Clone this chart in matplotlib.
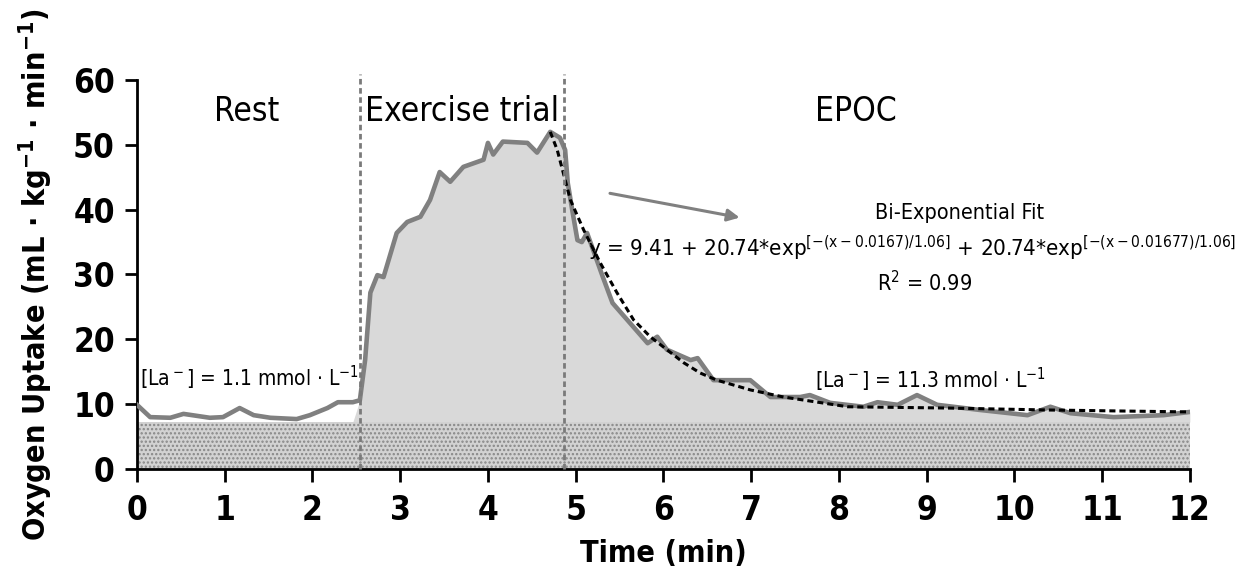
import numpy as np
import matplotlib
matplotlib.use("Agg")
import matplotlib.pyplot as plt

plt.rcParams['font.family'] = ['DejaVu Sans']
plt.rcParams['font.stretch'] = 'condensed'
plt.rcParams['mathtext.fontset'] = 'custom'
plt.rcParams['mathtext.rm'] = 'DejaVu Sans:stretch=condensed'
plt.rcParams['mathtext.it'] = 'DejaVu Sans:stretch=condensed'
plt.rcParams['mathtext.bf'] = 'DejaVu Sans:stretch=condensed:weight=bold'
plt.rcParams['mathtext.default'] = 'regular'
plt.rcParams['hatch.color'] = '#878787'
plt.rcParams['hatch.linewidth'] = 1.1

# measured oxygen uptake (min, mL/kg/min)
time = [0.00, 0.15, 0.38, 0.53, 0.83, 0.98, 1.17, 1.33, 1.52, 1.82, 1.97, 2.17, 2.29,
        2.46, 2.54, 2.60, 2.66, 2.74, 2.81, 2.96, 3.08, 3.23, 3.34, 3.45, 3.57, 3.72,
        3.95, 4.00, 4.06, 4.17, 4.45, 4.56, 4.71, 4.82, 4.88, 4.91, 4.96, 5.02, 5.07,
        5.13, 5.31, 5.42, 5.62, 5.82, 5.93, 6.04, 6.31, 6.39, 6.57, 6.99, 7.22, 7.56,
        7.67, 7.90, 8.28, 8.44, 8.67, 8.89, 9.12, 9.61, 10.15, 10.41, 10.64, 11.13,
        11.70, 12.00]
vo2 = [9.9, 8.0, 7.9, 8.5, 7.9, 8.0, 9.4, 8.3, 7.9, 7.7, 8.3, 9.4, 10.3,
       10.3, 10.6, 16.8, 27.2, 29.9, 29.6, 36.4, 38.1, 38.9, 41.5, 45.8, 44.3, 46.6,
       47.7, 50.3, 48.5, 50.5, 50.3, 48.8, 52.0, 51.1, 49.2, 44.1, 40.0, 35.3, 35.0,
       36.4, 29.6, 25.6, 22.5, 19.4, 20.4, 18.4, 16.8, 17.1, 13.7, 13.7, 11.1, 11.1,
       11.4, 10.2, 9.6, 10.3, 9.9, 11.4, 9.9, 9.1, 8.3, 9.6, 8.6, 8.0,
       8.3, 8.8]

# bi-exponential fit curve as drawn
fit_time = [4.71, 4.79, 4.94, 5.09, 5.28, 5.47, 5.66, 5.85, 6.04, 6.23, 6.42, 6.61,
            6.99, 7.37, 8.10, 9.24, 10.38, 12.00]
fit_vo2 = [52.0, 49.2, 41.5, 36.9, 31.8, 27.2, 23.0, 20.4, 18.4, 16.4, 14.8, 13.7,
           12.2, 11.1, 9.6, 9.4, 9.1, 8.8]

baseline = 7.25
rest_end = 2.54
exercise_end = 4.87

fig = plt.figure(figsize=(12.42, 5.78), dpi=100)
ax = fig.add_axes([0.1103, 0.1886, 0.8477, 0.673])

t = np.array(time)
v = np.array(vo2)
ax.fill_between(t, baseline, v, where=t >= rest_end - 0.01, color='#d9d9d9', lw=0,
                interpolate=True)
ax.fill_between([0, 12], 0, baseline, facecolor='#d2d2d2', hatch='....',
                edgecolor='#878787', lw=0)
ax.plot(t, v, color='#808080', lw=3.3, solid_joinstyle='round', zorder=3)
ax.plot(fit_time, fit_vo2, color='black', lw=2.2, linestyle=(0, (2, 1.3)), zorder=4)

for xv in [rest_end, exercise_end]:
    ax.plot([xv, xv], [0, 61], color='#7a7a7a', lw=2, linestyle=(0, (2, 1.3)),
            clip_on=False, zorder=5)

ax.annotate('', xy=(6.9, 38.7), xytext=(5.36, 42.6),
            arrowprops=dict(arrowstyle='-|>', color='#808080', lw=2.2,
                            mutation_scale=18))

ax.text(1.25, 55.2, 'Rest', fontsize=24, ha='center', va='center')
ax.text(3.71, 55.2, 'Exercise trial', fontsize=24, ha='center', va='center')
ax.text(8.19, 55.2, 'EPOC', fontsize=24, ha='center', va='center')
ax.text(9.38, 39.5, 'Bi-Exponential Fit', fontsize=15.5, ha='center', va='center')
ax.text(8.84, 34.1,
        r'y = 9.41 + 20.74*exp$^{[-(x-0.0167)/1.06]}$ + 20.74*exp$^{[-(x-0.01677)/1.06]}$',
        fontsize=16, ha='center', va='center')
ax.text(8.98, 28.7, r'R$^2$ = 0.99', fontsize=15.5, ha='center', va='center')
ax.text(0.03, 14.0, r'[La$^-$] = 1.1 mmol $\cdot$ L$^{-1}$', fontsize=15,
        ha='left', va='center')
ax.text(7.73, 13.7, r'[La$^-$] = 11.3 mmol $\cdot$ L$^{-1}$', fontsize=15,
        ha='left', va='center')

ax.set_xlim(0, 12)
ax.set_ylim(0, 60)
ax.set_xticks(range(0, 13))
ax.set_yticks(range(0, 61, 10))
for s in ['top', 'right']:
    ax.spines[s].set_visible(False)
for s in ['left', 'bottom']:
    ax.spines[s].set_linewidth(2)
ax.tick_params(direction='out', length=9, width=2, labelsize=24)
ax.tick_params(axis='x', pad=9)
ax.tick_params(axis='y', pad=7)
for lab in ax.get_xticklabels() + ax.get_yticklabels():
    lab.set_fontweight('bold')

ax.set_xlabel('Time (min)', fontsize=22, fontweight='bold')
ax.set_ylabel(r'Oxygen Uptake (mL $\cdot$ kg$^{-1}$ $\cdot$ min$^{-1}$)', fontsize=22,
              fontweight='bold')
ax.xaxis.set_label_coords(0.5, -0.18)
ax.yaxis.set_label_coords(-0.078, 0.5)

fig.savefig('out.png', dpi=100)
